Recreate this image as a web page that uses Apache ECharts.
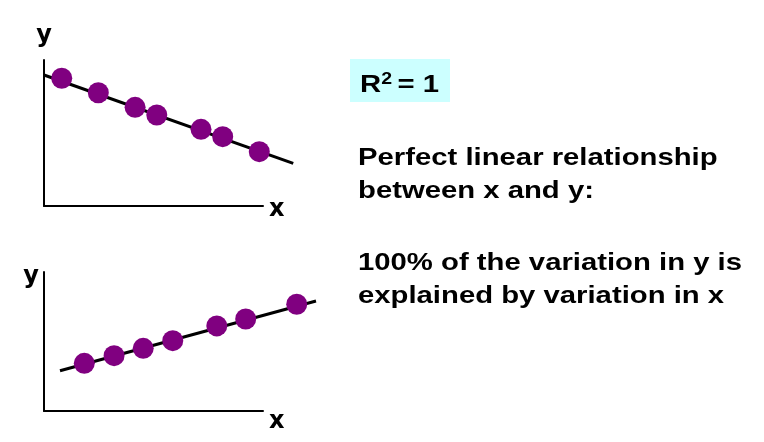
<!DOCTYPE html>
<html><head><meta charset="utf-8">
<script src="https://cdn.jsdelivr.net/npm/echarts@6/dist/echarts.min.js"></script>
<style>html,body{margin:0;padding:0;background:#fff}#c{width:764px;height:442px}</style>
</head><body><div id="c"></div>
<script>
// Top panel: negative relationship
const topX = [0.81, 2.48, 4.16, 5.15, 7.17, 8.16, 9.83];
const topY = [8.75, 7.76, 6.76, 6.23, 5.25, 4.75, 3.72];
const topLineX = [0, 11.38];
const topLineY = [8.97, 2.92];
// Bottom panel: positive relationship
const bottomX = [1.84, 3.20, 4.53, 5.88, 7.89, 9.21, 11.54];
const bottomY = [3.43, 3.98, 4.51, 5.06, 6.12, 6.62, 7.68];
const bottomLineX = [0.73, 12.42];
const bottomLineY = [2.90, 7.91];
// Texts
const xName = 'x';
const yName = 'y';
const r2Text = ['R', '2 ', '= 1'];
const para1 = ['Perfect linear relationship', 'between x and y:'];
const para2 = ['100% of the variation in y is', 'explained by variation in x'];

const zip = (a, b) => a.map((v, i) => [v, b[i]]);
const FONT = 'Liberation Sans, Arial, sans-serif';
const NAMEFONT = 'DejaVu Sans';
const PURPLE = '#800080';

const axisBase = {
  type: 'value', min: 0, max: 10,
  axisLine: { show: true, onZero: false, lineStyle: { color: '#000', width: 2 } },
  axisTick: { show: false }, axisLabel: { show: false }, splitLine: { show: false }
};
// Same scale as the visible axes, but extending further right so the fit line is not cut.
const overlayX = { type: 'value', min: 0, max: 14, show: false, splitLine: { show: false } };
const overlayY = { type: 'value', min: 0, max: 10, show: false, splitLine: { show: false } };
const nameStyle = (extra) => Object.assign({ fontFamily: NAMEFONT, fontWeight: 'bold', fontSize: 24, color: '#000' }, extra);

const chart = echarts.init(document.getElementById('c'));
chart.setOption({
  animation: false,
  backgroundColor: '#fff',
  grid: [
    { left: 44, top: 60, width: 219, height: 146 },
    { left: 44, top: 272, width: 219, height: 139 },
    { left: 44, top: 60, width: 306.6, height: 146 },
    { left: 44, top: 272, width: 306.6, height: 139 }
  ],
  xAxis: [
    Object.assign({}, axisBase, { gridIndex: 0, name: xName, nameLocation: 'end', nameGap: 6,
      nameTextStyle: nameStyle({ align: 'left', verticalAlign: 'top', lineHeight: 8 }) }),
    Object.assign({}, axisBase, { gridIndex: 1, name: xName, nameLocation: 'end', nameGap: 6,
      nameTextStyle: nameStyle({ align: 'left', verticalAlign: 'top', lineHeight: 22 }) }),
    Object.assign({}, overlayX, { gridIndex: 2 }),
    Object.assign({}, overlayX, { gridIndex: 3 })
  ],
  yAxis: [
    Object.assign({}, axisBase, { gridIndex: 0, name: yName, nameLocation: 'end', nameGap: 24,
      nameTextStyle: nameStyle({ align: 'center', verticalAlign: 'middle' }) }),
    Object.assign({}, axisBase, { gridIndex: 1, name: yName, nameLocation: 'end', nameGap: -5,
      nameTextStyle: nameStyle({ align: 'right', verticalAlign: 'middle', padding: [0, 5, 0, 0] }) }),
    Object.assign({}, overlayY, { gridIndex: 2 }),
    Object.assign({}, overlayY, { gridIndex: 3 })
  ],
  series: [
    { type: 'line', xAxisIndex: 2, yAxisIndex: 2, data: zip(topLineX, topLineY), symbol: 'none', clip: false,
      lineStyle: { color: '#000', width: 3 }, z: 2 },
    { type: 'scatter', xAxisIndex: 0, yAxisIndex: 0, data: zip(topX, topY), symbol: 'circle', symbolSize: 21, clip: false,
      itemStyle: { color: PURPLE, opacity: 1 }, z: 3 },
    { type: 'line', xAxisIndex: 3, yAxisIndex: 3, data: zip(bottomLineX, bottomLineY), symbol: 'none', clip: false,
      lineStyle: { color: '#000', width: 3 }, z: 2 },
    { type: 'scatter', xAxisIndex: 1, yAxisIndex: 1, data: zip(bottomX, bottomY), symbol: 'circle', symbolSize: 21, clip: false,
      itemStyle: { color: PURPLE, opacity: 1 }, z: 3 }
  ],
  graphic: [
    { type: 'rect', shape: { x: 350, y: 59, width: 100, height: 43 }, style: { fill: '#ccffff' }, z: 1 },
    { type: 'text', x: 360, y: 70, scaleX: 1.22, z: 2,
      style: {
        text: '{a|' + r2Text[0] + '}{s|' + r2Text[1] + '}{a|' + r2Text[2] + '}',
        align: 'left', verticalAlign: 'top',
        rich: {
          a: { fontFamily: FONT, fontWeight: 'bold', fontSize: 24, lineHeight: 30, fill: '#000', verticalAlign: 'middle' },
          s: { fontFamily: FONT, fontWeight: 'bold', fontSize: 16, lineHeight: 20, fill: '#000', verticalAlign: 'top', padding: [2, 0, 0, 0] }
        }
      } },
    { type: 'text', x: 358, y: 142, scaleX: 1.22, z: 2,
      style: { text: para1.join('\n'), font: 'bold 24px ' + FONT, lineHeight: 33, fill: '#000', align: 'left', verticalAlign: 'top' } },
    { type: 'text', x: 358, y: 247, scaleX: 1.22, z: 2,
      style: { text: para2.join('\n'), font: 'bold 24px ' + FONT, lineHeight: 33, fill: '#000', align: 'left', verticalAlign: 'top' } }
  ]
});
</script></body></html>
